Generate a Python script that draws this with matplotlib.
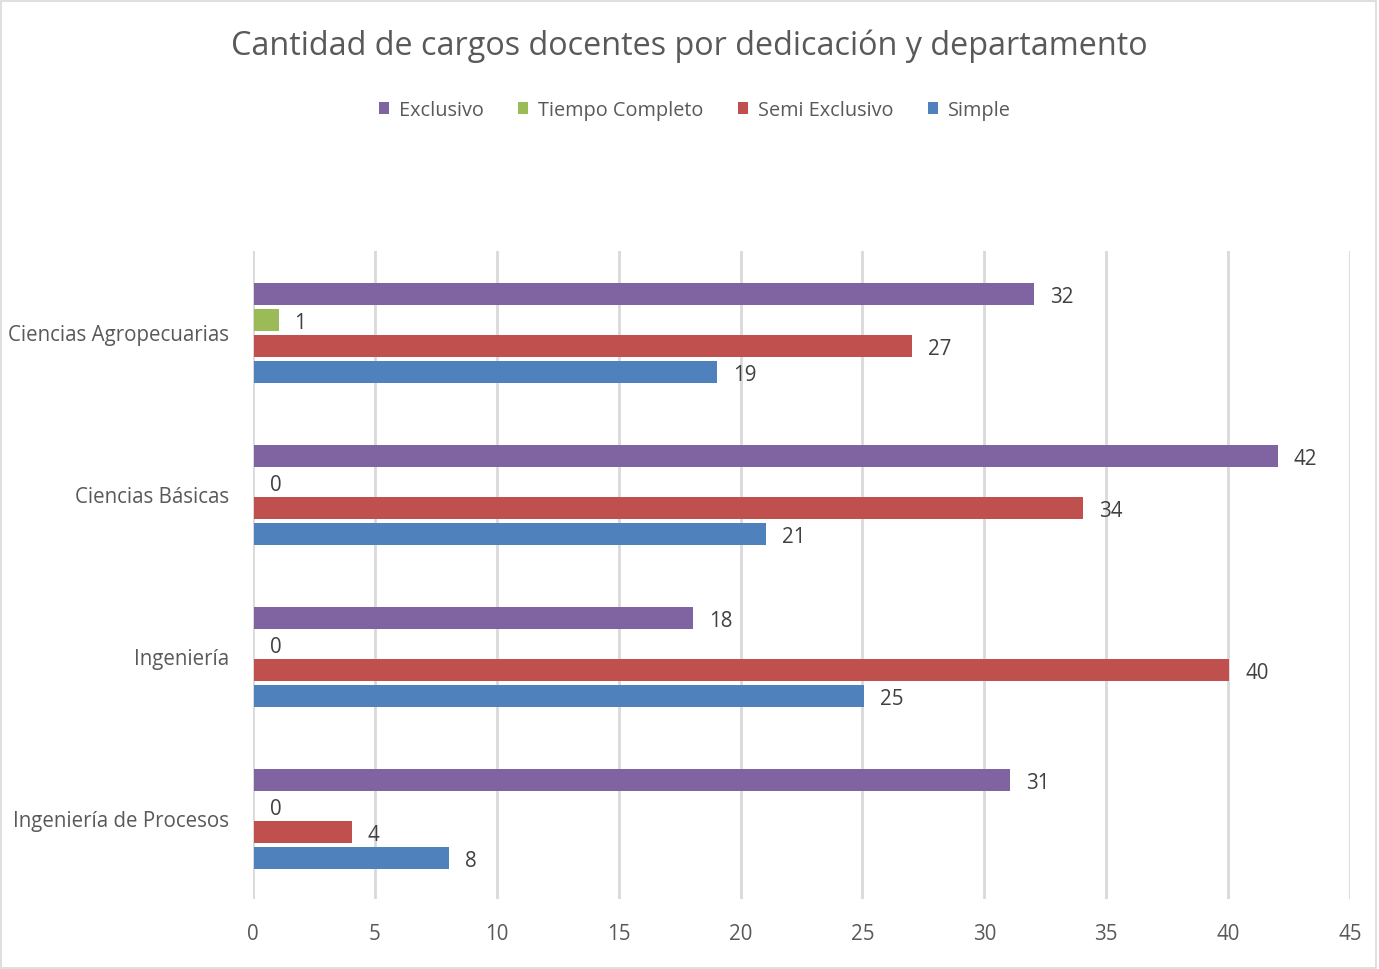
import matplotlib.pyplot as plt
import numpy as np
from matplotlib.patches import Rectangle

plt.rcParams['font.family'] = ['Open Sans', 'DejaVu Sans']

departamentos = ['Ciencias Agropecuarias', 'Ciencias Básicas', 'Ingeniería', 'Ingeniería de Procesos']
series = ['Exclusivo', 'Tiempo Completo', 'Semi Exclusivo', 'Simple']
exclusivo = [32, 42, 18, 31]
tiempo_completo = [1, 0, 0, 0]
semi_exclusivo = [27, 34, 40, 4]
simple = [19, 21, 25, 8]
colores = ['#8064A2', '#9BBB59', '#C0504D', '#4F81BD']
ticks_x = [0, 5, 10, 15, 20, 25, 30, 35, 40, 45]

text_color = '#595959'

fig = plt.figure(figsize=(13.79, 9.70), dpi=100)
fig.patches.append(Rectangle((0.001, 0.001), 0.997, 0.997, transform=fig.transFigure,
                             fill=False, edgecolor='#D9D9D9', linewidth=1.2))
ax = fig.add_axes([253 / 1379, 1 - 900 / 970, 1097 / 1379, 648 / 970])

pitch = 26 / 162
height = 22 / 162
y_base = np.arange(len(departamentos))
for i, (name, vals, col) in enumerate(zip(series, [exclusivo, tiempo_completo, semi_exclusivo, simple], colores)):
    y = y_base + (i - 1.5) * pitch + 0.008
    ax.barh(y, vals, height=height, color=col, label=name, left=0.05, zorder=3)
    for yy, v in zip(y, vals):
        ax.text(v + 0.7, yy + 0.012, str(v), va='center', ha='left', fontsize=14.8, color='#404040')

ax.set_ylim(3.5, -0.5)
ax.set_xlim(0, 45)
ax.set_xticks(ticks_x)
ax.set_yticks(y_base)
ax.set_yticklabels(departamentos)
ax.tick_params(axis='both', length=0, labelsize=14.8, colors=text_color)
ax.tick_params(axis='x', pad=17)
ax.tick_params(axis='y', pad=17)
ax.grid(axis='x', color='#D9D9D9', linewidth=2, zorder=0)
for s in ax.spines.values():
    s.set_visible(False)

fig.text(0.5, 1 - 46 / 970, 'Cantidad de cargos docentes por dedicación y departamento',
         ha='center', va='center', fontsize=23.3, color=text_color)

handles, labels = ax.get_legend_handles_labels()
fig.legend(handles, labels, loc='center', bbox_to_anchor=(0.504, 1 - 111 / 970), ncol=4,
           frameon=False, fontsize=14.3, handlelength=0.5, handleheight=0.5,
           handletextpad=0.5, columnspacing=1.75, labelcolor=text_color)

fig.savefig('out.png', dpi=100)
